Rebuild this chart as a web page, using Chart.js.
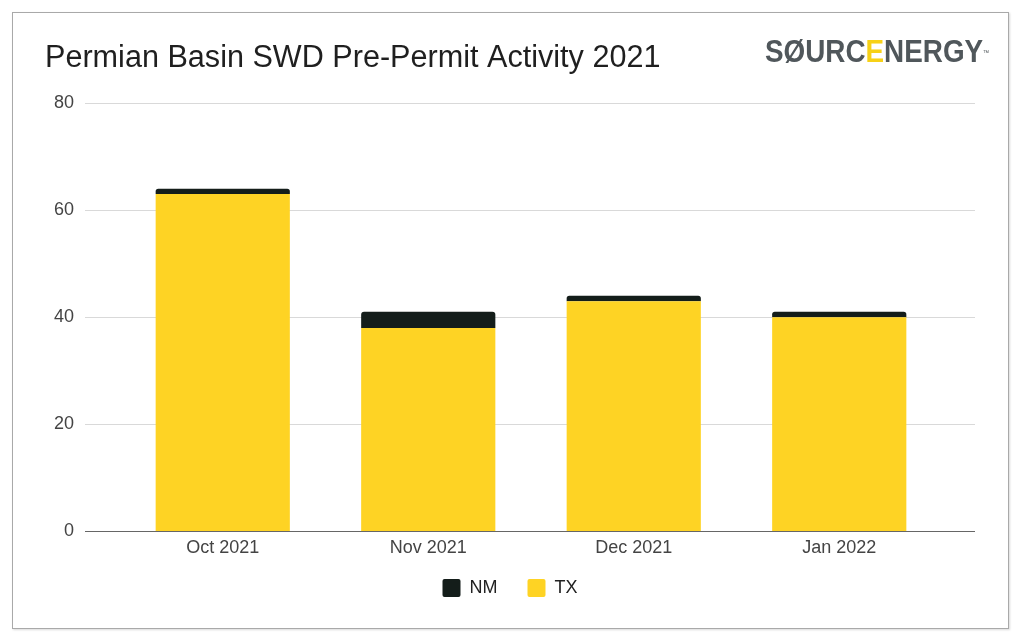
<!DOCTYPE html>
<html>
<head>
<meta charset="utf-8">
<script src="https://cdn.jsdelivr.net/npm/chart.js@4"></script>
<style>
  html, body { margin: 0; padding: 0; background: #fff; }
  #frame { position: absolute; left: 12px; top: 12px; width: 995px; height: 615px; border: 1px solid #a9a9a9; box-shadow: 1px 1px 2px rgba(0,0,0,0.15); background: #fff; }
  #c { display: block; }
  #logo { position: absolute; left: 765px; top: 35px; font-family: "Liberation Sans", Arial, sans-serif; font-weight: bold; font-size: 32px; line-height: 32px; color: #50575b; white-space: nowrap; transform-origin: left top; transform: scaleX(0.87); }
  #logo .e { color: #f7d117; }
  #logo sup { font-size: 7px; vertical-align: top; position: relative; top: 2px; font-weight: normal; }
</style>
</head>
<body>
<div id="frame"><canvas id="c" width="995" height="615"></canvas></div>
<div id="logo">SØURC<span class="e">E</span>NERGY<sup>™</sup></div>
<script>
const chartTitle = "Permian Basin SWD Pre-Permit Activity 2021";
const categories = ["Oct 2021", "Nov 2021", "Dec 2021", "Jan 2022"];
const txValues = [63, 38, 43, 40];
const nmValues = [1, 3, 1, 1];
const yTicks = [0, 20, 40, 60, 80];

const FONT = '"Liberation Sans", Arial, sans-serif';

// Inset the category axis inside the plot (gridlines span full width), and nudge legend up.
const insetPlugin = {
  id: 'inset',
  afterLayout(chart) {
    const x = chart.scales.x;
    x.left += 35; x.right -= 33; x.width = x.right - x.left;
    x.configure();
    const lg = chart.legend;
    if (lg) { lg.top -= 16; lg.bottom -= 16; }
  }
};

new Chart(document.getElementById('c'), {
  type: 'bar',
  data: {
    labels: categories,
    datasets: [
      { label: 'TX', data: txValues, backgroundColor: '#fed324', borderWidth: 0, borderRadius: 0, barPercentage: 0.653, categoryPercentage: 1.0 },
      { label: 'NM', data: nmValues, backgroundColor: '#141d1a', borderWidth: 0, borderRadius: {topLeft: 3, topRight: 3, bottomLeft: 0, bottomRight: 0}, borderSkipped: 'bottom', barPercentage: 0.653, categoryPercentage: 1.0 }
    ]
  },
  plugins: [insetPlugin],
  options: {
    responsive: false,
    animation: false,
    layout: { padding: { left: 32, right: 33, top: 0, bottom: 5 } },
    plugins: {
      tooltip: { enabled: false },
      title: {
        display: true,
        text: chartTitle,
        align: 'start',
        color: '#1f1f1f',
        font: { family: FONT, size: 30.6, weight: 'normal', lineHeight: 1.2 },
        padding: { top: 27, bottom: 26.3 }
      },
      legend: {
        display: true,
        position: 'bottom',
        reverse: true,
        labels: {
          boxWidth: 18, boxHeight: 18, padding: 30,
          useBorderRadius: true, borderRadius: 2,
          color: '#222',
          font: { family: FONT, size: 18 }
        }
      }
    },
    scales: {
      x: {
        stacked: true,
        grid: { display: false, drawTicks: false },
        border: { display: false },
        ticks: { color: '#444', font: { family: FONT, size: 18 }, padding: 6 }
      },
      y: {
        stacked: true,
        min: 0, max: 80,
        afterBuildTicks: (s) => { s.ticks = yTicks.map(v => ({ value: v })); },
        grid: { drawTicks: false, color: (ctx) => ctx.tick && ctx.tick.value === 0 ? '#666' : '#d9d9d9', lineWidth: 1 },
        border: { display: false },
        ticks: { color: '#444', font: { family: FONT, size: 18 }, padding: 11 },
        afterFit: (s) => { s.width = 40; }
      }
    }
  }
});
</script>
</body>
</html>
